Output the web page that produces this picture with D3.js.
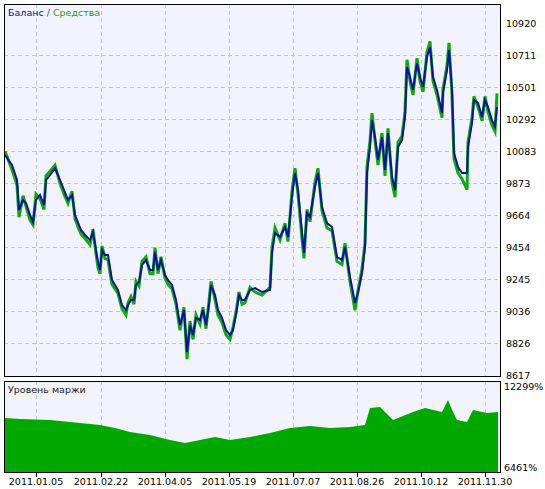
<!DOCTYPE html>
<html><head><meta charset="utf-8">
<script src="https://cdn.jsdelivr.net/npm/d3@7"></script>
<style>body{margin:0;background:#fff}text{font-family:"DejaVu Sans",sans-serif;font-size:9.5px}</style>
</head><body><svg id="c" width="545" height="489"></svg>
<script>
// bar index / balance pairs
var barIdx = [1,8,13,15,19,22,26,29,32,36,40,42,46,51,56,60,64,68,71,75,77,81,86,89,92,94,96,98,101,104,108,111,114,118,122,124,127,130,132,135,138,142,146,149,151,154,157,161,164,168,172,176,180,183,186,189,192,196,199,202,205,207,211,214,218,222,226,229,232,235,238,241,246,251,258,266,268,271,276,281,284,288,291,294,298,300,303,306,311,314,318,323,328,333,338,341,346,351,354,358,361,363,366,368,371,374,378,381,384,388,391,394,398,401,403,406,409,413,416,419,423,426,429,433,438,439,443,445,448,450,454,458,463,464,468,470,474,478,481,484,488,491,493];
var balance = [10056,9991,9893,9696,9762,9742,9664,9618,9762,9795,9729,9893,9925,9971,9893,9827,9762,9795,9664,9598,9566,9533,9500,9553,9435,9356,9304,9435,9402,9402,9238,9206,9173,9075,9042,9075,9108,9108,9206,9225,9337,9369,9304,9304,9422,9304,9369,9271,9238,9206,9108,8944,9042,8767,8944,8879,8990,8977,9042,8944,9075,9206,9140,9042,8990,8911,8879,8911,9009,9140,9108,9108,9173,9186,9160,9173,9415,9546,9520,9585,9520,9782,9939,9827,9546,9415,9677,9651,9847,9939,9716,9611,9585,9389,9369,9454,9258,9088,9153,9284,9454,9939,10109,10285,10174,10024,10174,9958,10200,9912,9827,10109,10154,10305,10632,10567,10482,10658,10567,10501,10698,10763,10567,10482,10331,10462,10612,10743,10482,10069,9978,9939,9939,10109,10266,10416,10397,10305,10416,10370,10285,10240,10370];
var equity  = [10080,9960,9860,9650,9790,9720,9630,9600,9800,9770,9700,9920,9950,9990,9870,9800,9740,9820,9640,9570,9540,9510,9470,9570,9410,9320,9280,9460,9380,9370,9210,9180,9150,9050,9010,9090,9130,9080,9230,9200,9360,9390,9280,9280,9450,9280,9390,9250,9210,9180,9080,8910,9060,8720,8970,8850,9010,8950,9060,8920,9100,9230,9110,9010,8960,8880,8850,8930,9030,9160,9080,9090,9190,9160,9140,9190,9450,9580,9500,9610,9490,9820,9970,9800,9510,9380,9700,9620,9880,9970,9690,9580,9560,9360,9340,9480,9230,9040,9170,9310,9480,9980,10150,10330,10150,9990,10200,9920,10230,9880,9780,10140,10180,10340,10680,10540,10450,10690,10540,10470,10730,10800,10540,10450,10300,10490,10640,10790,10450,10030,9940,9900,9830,10140,10300,10440,10370,10280,10440,10340,10250,10210,10460];
var marginIdx = [1,16,46,76,96,111,126,146,166,181,196,211,226,246,266,286,306,326,346,361,366,376,389,409,421,438,444,449,453,463,469,483,494];
var margin = [9995,9923,9851,9635,9491,9275,8987,8771,8411,8195,8411,8627,8411,8627,8915,9275,9419,9275,9347,9491,10715,10787,9851,10427,10715,10427,11291,10427,9851,9707,10571,10355,10427];
var yTicks = [10920,10711,10501,10292,10083,9873,9664,9454,9245,9036,8826,8617];
var dateIdx = [32,97,161,225,289,353,417,481];
var dateLabels = ["2011.01.05","2011.02.22","2011.04.05","2011.05.19","2011.07.07","2011.08.26","2011.10.12","2011.11.30"];

var svg = d3.select("#c");
var L = 4, R = 501;
var x = d3.scaleLinear().domain([0, 497]).range([L, R]);
var y = d3.scaleLinear().domain([8617, 10920]).range([375, 23]);
var ym = d3.scaleLinear().domain([6461, 12299]).range([467, 386]);

function panel(t, b) {
  svg.append("rect").attr("x", L).attr("y", t).attr("width", R - L).attr("height", b - t).attr("fill", "#f2f2fd");
}
panel(4, 377); panel(381, 473);

var grid = svg.append("g").attr("stroke", "#c4c4cc").attr("stroke-dasharray", "4,3").attr("shape-rendering", "crispEdges");
dateIdx.forEach(function (d) {
  grid.append("line").attr("x1", Math.round(x(d)) + .5).attr("x2", Math.round(x(d)) + .5).attr("y1", 4).attr("y2", 377);
  grid.append("line").attr("x1", Math.round(x(d)) + .5).attr("x2", Math.round(x(d)) + .5).attr("y1", 381).attr("y2", 473);
});
yTicks.slice(1, -1).forEach(function (v) {
  grid.append("line").attr("x1", L).attr("x2", R).attr("y1", Math.round(y(v)) + .5).attr("y2", Math.round(y(v)) + .5);
});

// margin area
var mData = d3.zip(marginIdx, margin);
svg.append("path").datum(mData).attr("fill", "#00a800")
  .attr("d", d3.area().x(function (d) { return x(d[0]); }).y0(473).y1(function (d) { return ym(d[1]); }));

var line = d3.line().x(function (d) { return x(d[0]); }).y(function (d) { return y(d[1]); });
svg.append("path").datum(d3.zip(barIdx, equity)).attr("fill", "none").attr("stroke", "#12a812").attr("stroke-width", 3).attr("d", line);
svg.append("path").datum(d3.zip(barIdx, balance)).attr("fill", "none").attr("stroke", "#0a1496").attr("stroke-width", 2).attr("d", line);

// frames
[[4, 377], [381, 473]].forEach(function (p) {
  svg.append("rect").attr("x", L + .5).attr("y", p[0] + .5).attr("width", R - L - 1).attr("height", p[1] - p[0] - 1)
    .attr("fill", "none").attr("stroke", "#000").attr("shape-rendering", "crispEdges");
});

yTicks.forEach(function (v) {
  svg.append("text").attr("x", 506).attr("y", y(v) + 4).text(v);
});
svg.append("text").attr("x", 504).attr("y", 390).text("12299%");
svg.append("text").attr("x", 504).attr("y", 471).text("6461%");
dateIdx.forEach(function (d, i) {
  svg.append("line").attr("x1", Math.round(x(d)) + .5).attr("x2", Math.round(x(d)) + .5).attr("y1", 473).attr("y2", 477).attr("stroke", "#000");
  svg.append("text").attr("x", x(d)).attr("y", 485).attr("text-anchor", "middle").text(dateLabels[i]);
});

var t = svg.append("text").attr("x", 8).attr("y", 16);
t.append("tspan").attr("fill", "#0a1496").text("Баланс");
t.append("tspan").attr("fill", "#555").text(" / ");
t.append("tspan").attr("fill", "#12a812").text("Средства");
svg.append("text").attr("x", 8).attr("y", 393).attr("fill", "#222").text("Уровень маржи");
</script></body></html>
